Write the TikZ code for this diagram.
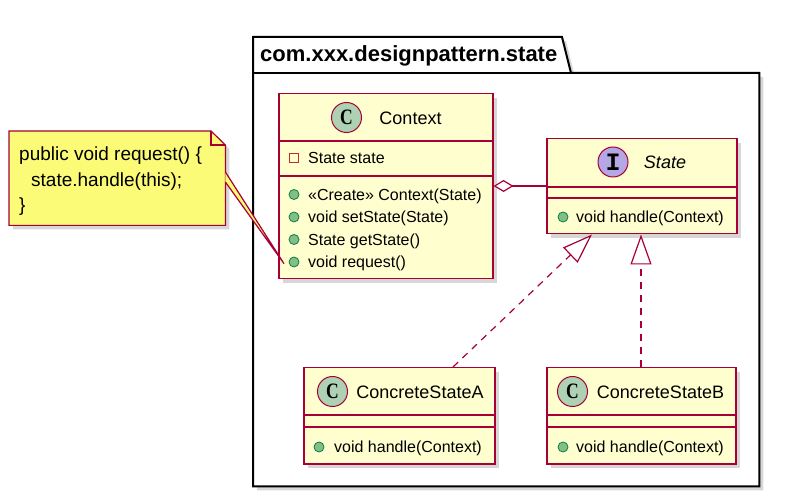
\documentclass[tikz,border=0pt]{standalone}
\usepackage{fontspec}
\setmainfont{Liberation Sans}
\newfontfamily\iconfont{Liberation Mono}
\newfontfamily\iconserif{Liberation Serif}
\usetikzlibrary{arrows.meta,shadows}
\definecolor{umlred}{HTML}{A80036}
\definecolor{umlfill}{HTML}{FEFECE}
\definecolor{notefill}{HTML}{FBFB77}
\definecolor{cfill}{HTML}{ADD1B2}
\definecolor{ifill}{HTML}{B4A7E5}
\definecolor{dotfill}{HTML}{84BE84}
\definecolor{dotborder}{HTML}{038048}
\definecolor{privred}{HTML}{C82930}
\newcommand{\Cglyph}{\scalebox{0.8}[1]{\iconserif\bfseries\fontsize{22}{22}\selectfont C}}
\begin{document}
\begin{tikzpicture}[x=1pt,y=-1pt,
  shad/.style={drop shadow={shadow xshift=4pt,shadow yshift=-4pt,opacity=0.35,fill=black!45}},
  classbox/.style={draw=umlred,fill=umlfill,line width=1.5pt,anchor=north west,inner sep=0,shad},
  divider/.style={draw=umlred,line width=1.5pt},
  clsname/.style={anchor=base,inner sep=0,font=\fontsize{18}{21}\selectfont},
  member/.style={anchor=base west,inner sep=0,font=\fontsize{16}{19}\selectfont},
  notetext/.style={anchor=base west,inner sep=0,font=\fontsize{19}{25}\selectfont},
  iconC/.style={circle,draw=umlred,line width=1pt,fill=cfill,minimum size=30pt,inner sep=0},
  iconI/.style={iconC,fill=ifill,font=\iconfont\fontsize{25}{25}\selectfont\bfseries},
  pubdot/.style={circle,draw=dotborder,fill=dotfill,minimum size=10pt,inner sep=0,line width=0.8pt},
  privsq/.style={rectangle,draw=privred,minimum size=9pt,inner sep=0,line width=1pt},
  realize/.style={draw=umlred,line width=1.2pt,dash pattern=on 7pt off 6pt,-{Triangle[open,fill=white,length=30pt,width=21pt]}},
  aggr/.style={draw=umlred,line width=1.2pt,{Diamond[open,fill=white,length=20pt,width=12pt]}-},
  pkg/.style={draw=black,line width=2pt}
]
\useasboundingbox (0,0) rectangle (790,502);

% package
\node[anchor=north west,inner sep=0,minimum width=506pt,minimum height=449pt] (pkgbox) at (253,37) {};
\filldraw[pkg,fill=white,shad] (pkgbox.north west) -- (562,37) -- (571,73) -- (pkgbox.east |- 0,73) -- (pkgbox.south east) -- (pkgbox.south west) -- cycle;
\draw[pkg] (pkgbox.west |- 0,73) -- (571,73);
\node[anchor=base west,inner sep=0,font=\bfseries\fontsize{22}{26}\selectfont] (pkgtitle) at (260,62) {com.xxx.designpattern.state};

% Context
\node[classbox,minimum width=214pt,minimum height=185pt] (ctx) at (278,93) {};
\draw[divider] (ctx.west |- 0,141) -- (ctx.east |- 0,141);
\draw[divider] (ctx.west |- 0,176) -- (ctx.east |- 0,176);
\node[iconC] (ctxicon) at (346.5,117.5) {\Cglyph};
\node[clsname] (ctxname) at (410.5,124.5) {Context};
\node[privsq] (ctxa1) at (294,158) {};
\node[member] (ctxattr) at (308,163.8) {State state};
\node[pubdot] (ctxd1) at (294,194.5) {};
\node[member] (ctxm1) at (308,200.3) {«Create» Context(State)};
\node[pubdot] (ctxd2) at (294,217) {};
\node[member] (ctxm2) at (308,222.8) {void setState(State)};
\node[pubdot] (ctxd3) at (294,239.5) {};
\node[member] (ctxm3) at (308,245.3) {State getState()};
\node[pubdot] (ctxd4) at (294,262) {};
\node[member] (ctxm4) at (308,267.8) {void request()};

% State interface
\node[classbox,minimum width=190pt,minimum height=95pt] (state) at (546,138) {};
\draw[divider] (state.west |- 0,187) -- (state.east |- 0,187);
\draw[divider] (state.west |- 0,198) -- (state.east |- 0,198);
\node[iconI] (stateicon) at (613,162) {I};
\node[clsname,font=\itshape\fontsize{18}{21}\selectfont] (statename) at (665,168.5) {State};
\node[pubdot] (stated1) at (563,217) {};
\node[member] (statem1) at (576,222.8) {void handle(Context)};

% ConcreteStateA
\node[classbox,minimum width=191pt,minimum height=96pt] (csa) at (303,367) {};
\draw[divider] (csa.west |- 0,415) -- (csa.east |- 0,415);
\draw[divider] (csa.west |- 0,427) -- (csa.east |- 0,427);
\node[iconC] (csaicon) at (332.5,391.5) {\Cglyph};
\node[clsname] (csaname) at (420,398.5) {ConcreteStateA};
\node[pubdot] (csad1) at (319,447) {};
\node[member] (csam1) at (334,452.8) {void handle(Context)};

% ConcreteStateB
\node[classbox,minimum width=189pt,minimum height=96pt] (csb) at (546,367) {};
\draw[divider] (csb.west |- 0,415) -- (csb.east |- 0,415);
\draw[divider] (csb.west |- 0,427) -- (csb.east |- 0,427);
\node[iconC] (csbicon) at (572.5,391.5) {\Cglyph};
\node[clsname] (csbname) at (660.5,398.5) {ConcreteStateB};
\node[pubdot] (csbd1) at (563,447) {};
\node[member] (csbm1) at (576,452.8) {void handle(Context)};

% relations
\draw[aggr] (ctx.east |- 0,186) -- (state.west |- 0,186);
\draw[realize] (csa.north -| 453,0) -- (state.south -| 592,0);
\draw[realize] (csb.north -| 641,0) -- (state.south -| 641,0);

% note
\node[anchor=north west,inner sep=0,minimum width=216pt,minimum height=94pt] (note) at (9,131) {};
\filldraw[draw=umlred,fill=notefill,line width=1.2pt,shad] (note.north west) -- (211,131) -- (note.east |- 0,145) -- (note.south east) -- (note.south west) -- cycle;
\draw[umlred,line width=1.2pt] (211,131) -- (211,145) -- (note.east |- 0,145);
\node[notetext] (note1) at (19,160.8) {public void request() \{};
\node[notetext] (note2) at (31,186.8) {state.handle(this);};
\node[notetext] (note3) at (19,211.8) {\}};
\fill[notefill] (note.east |- 0,172) -- (ctxm4.west -| 284,0) -- (note.east |- 0,182) -- cycle;
\draw[umlred,line width=1.2pt] (note.east |- 0,172) -- (ctxm4.west -| 284,0) -- (note.east |- 0,182);
\end{tikzpicture}
\end{document}
